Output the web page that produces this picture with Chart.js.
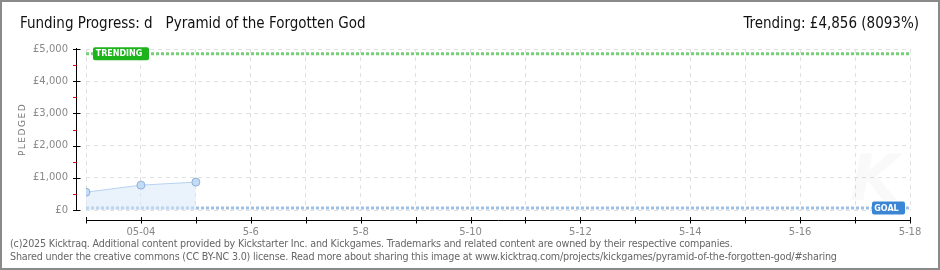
<!DOCTYPE html>
<html><head><meta charset="utf-8">
<script src="https://cdn.jsdelivr.net/npm/chart.js@4/dist/chart.umd.min.js"></script>
<style>
html,body{margin:0;padding:0;background:#fff;}
#wrap{position:relative;width:940px;height:270px;box-sizing:border-box;border:2px solid #8a8a8a;overflow:hidden;}
canvas{position:absolute;left:-2px;top:-2px;}
.t{position:absolute;white-space:nowrap;color:#111;}
#title{left:18px;top:12px;font:15px "Liberation Sans Narrow","DejaVu Sans Condensed","Liberation Sans",sans-serif;}
#trend{right:19px;top:12px;font:15px "Liberation Sans Narrow","DejaVu Sans Condensed","Liberation Sans",sans-serif;}
.f{position:absolute;left:8px;white-space:nowrap;color:#666;font:9.6px "DejaVu Sans",sans-serif;letter-spacing:-0.18px;}
</style></head>
<body>
<div id="wrap">
<canvas id="c" width="940" height="270"></canvas>
<div class="t" id="title">Funding Progress: d&nbsp;&nbsp; Pyramid of the Forgotten God</div>
<div class="t" id="trend">Trending: £4,856 (8093%)</div>
<div class="f" style="top:236px">(c)2025 Kicktraq. Additional content provided by Kickstarter Inc. and Kickgames. Trademarks and related content are owned by their respective companies.</div>
<div class="f" style="top:249px">Shared under the creative commons (CC BY-NC 3.0) license. Read more about sharing this image at www.kicktraq.com/projects/kickgames/pyramid-of-the-forgotten-god/#sharing</div>
</div>
<script>
// Data
const dayLabels = ['05-03','05-04','05-05'];
const pledged = [553, 772, 866];
const xTickLabels = ['', '05-04', '', '5-6', '', '5-8', '', '5-10', '', '5-12', '', '5-14', '', '5-16', '', '5-18'];
const yTickValues = [0, 1000, 2000, 3000, 4000, 5000];
const yTickLabels = ['£0', '£1,000', '£2,000', '£3,000', '£4,000', '£5,000'];
const trendingValue = 4856;
const goalValue = 60;

const lastDay = xTickLabels.length - 1;

const axesPlugin = {
  id: 'customAxes',
  afterDraw(chart) {
    const ctx = chart.ctx;
    const xs = chart.scales.x, ys = chart.scales.y;
    const a = chart.chartArea;
    ctx.save();
    ctx.strokeStyle = '#000'; ctx.lineWidth = 1;
    const ax = a.left - 9.5;
    ctx.beginPath(); ctx.moveTo(ax, ys.getPixelForValue(5000) - 1); ctx.lineTo(ax, ys.getPixelForValue(0)); ctx.stroke();
    for (let v = 0; v <= 5000; v += 500) {
      const y = Math.round(ys.getPixelForValue(v)) + 0.5;
      ctx.strokeStyle = (v % 1000 === 0) ? '#000' : '#f00';
      ctx.beginPath();
      if (v % 1000 === 0) { ctx.moveTo(ax - 3.5, y); ctx.lineTo(ax + 4, y); }
      else { ctx.moveTo(ax - 3.5, y); ctx.lineTo(ax, y); }
      ctx.stroke();
    }
    const ay = a.bottom + 10.5;
    ctx.strokeStyle = '#000';
    ctx.beginPath(); ctx.moveTo(xs.getPixelForValue(0), ay); ctx.lineTo(xs.getPixelForValue(lastDay) + 1, ay); ctx.stroke();
    for (let d = 0; d <= lastDay; d++) {
      const x = Math.round(xs.getPixelForValue(d)) + 0.5;
      ctx.beginPath(); ctx.moveTo(x, ay - 3.5); ctx.lineTo(x, ay + 3); ctx.stroke();
    }
    ctx.fillStyle = '#777';
    ctx.font = '9px "DejaVu Sans", sans-serif';
    ctx.translate(23, (a.top + a.bottom) / 2);
    ctx.rotate(-Math.PI / 2);
    ctx.textAlign = 'center'; ctx.textBaseline = 'middle';
    if (ctx.letterSpacing !== undefined) ctx.letterSpacing = '1.5px';
    ctx.fillText('PLEDGED', 0, 0);
    ctx.restore();

    function tag(text, x, y, w, color) {
      ctx.save();
      ctx.fillStyle = color;
      const h = 13;
      ctx.beginPath();
      if (ctx.roundRect) ctx.roundRect(x, y - h / 2, w, h, 2); else ctx.rect(x, y - h / 2, w, h);
      ctx.fill();
      ctx.fillStyle = '#fff';
      ctx.font = 'bold 8px "DejaVu Sans", sans-serif';
      ctx.textBaseline = 'middle';
      ctx.textAlign = 'center';
      ctx.fillText(text, x + w / 2 - 2, y + 0.5);
      ctx.restore();
    }
    tag('TRENDING', a.left + 7, ys.getPixelForValue(trendingValue), 56, '#1db31d');
    tag('GOAL', xs.getPixelForValue(lastDay) - 38, ys.getPixelForValue(goalValue), 33, '#3a86d4');
  },
  beforeDatasetsDraw(chart) {
    const ctx = chart.ctx;
    ctx.save();
    ctx.fillStyle = 'rgba(0,0,0,0.022)';
    ctx.font = 'italic bold 64px "DejaVu Sans", sans-serif';
    ctx.fillText('K', 850, 200);
    ctx.restore();
  }
};

new Chart(document.getElementById('c'), {
  type: 'line',
  data: {
    datasets: [
      {
        label: 'Pledged',
        data: pledged.map((v, i) => ({x: i, y: v})),
        borderColor: '#b5d2f2',
        backgroundColor: 'rgba(214,232,250,0.5)',
        fill: 'origin',
        borderWidth: 1,
        pointRadius: 4,
        pointBackgroundColor: '#c4dbf5',
        pointBorderColor: '#8fb0d8',
        pointBorderWidth: 1,
        tension: 0,
        order: 1
      },
      {
        label: 'Trending',
        data: [{x: 0, y: trendingValue}, {x: lastDay, y: trendingValue}],
        borderColor: '#77d077',
        borderWidth: 3,
        borderDash: [3, 2],
        pointRadius: 0,
        fill: false,
        order: 2
      },
      {
        label: 'Goal',
        data: [{x: 0, y: goalValue}, {x: lastDay, y: goalValue}],
        borderColor: '#9fc0e6',
        borderWidth: 3,
        borderDash: [3, 2],
        pointRadius: 0,
        fill: false,
        order: 2
      }
    ]
  },
  options: {
    responsive: false,
    animation: false,
    layout: {padding: {left: 0, right: 30, top: 49, bottom: 0}},
    plugins: {legend: {display: false}, tooltip: {enabled: false}, title: {display: false}},
    scales: {
      x: {
        type: 'linear', min: 0, max: lastDay,
        afterFit: s => { s.height = 60; },
        afterBuildTicks: s => { s.ticks = xTickLabels.map((_, i) => ({value: i})); },
        border: {display: false, dash: [4, 4]},
        grid: {color: '#e0e0e0', drawTicks: false, lineWidth: 1},
        ticks: {
          autoSkip: false, maxRotation: 0, padding: 16,
          color: '#888', font: {family: '"DejaVu Sans", sans-serif', size: 10},
          callback: (v) => xTickLabels[v] ?? ''
        }
      },
      y: {
        min: 0, max: 5000,
        afterFit: s => { s.width = 86; },
        afterBuildTicks: s => { s.ticks = yTickValues.map(v => ({value: v})); },
        border: {display: false, dash: [4, 4]},
        grid: {color: '#e0e0e0', drawTicks: false},
        ticks: {
          padding: 18, color: '#888',
          font: {family: '"DejaVu Sans", sans-serif', size: 10},
          callback: (v) => yTickLabels[yTickValues.indexOf(v)] ?? ''
        }
      }
    }
  },
  plugins: [axesPlugin]
});
</script>
</body></html>
